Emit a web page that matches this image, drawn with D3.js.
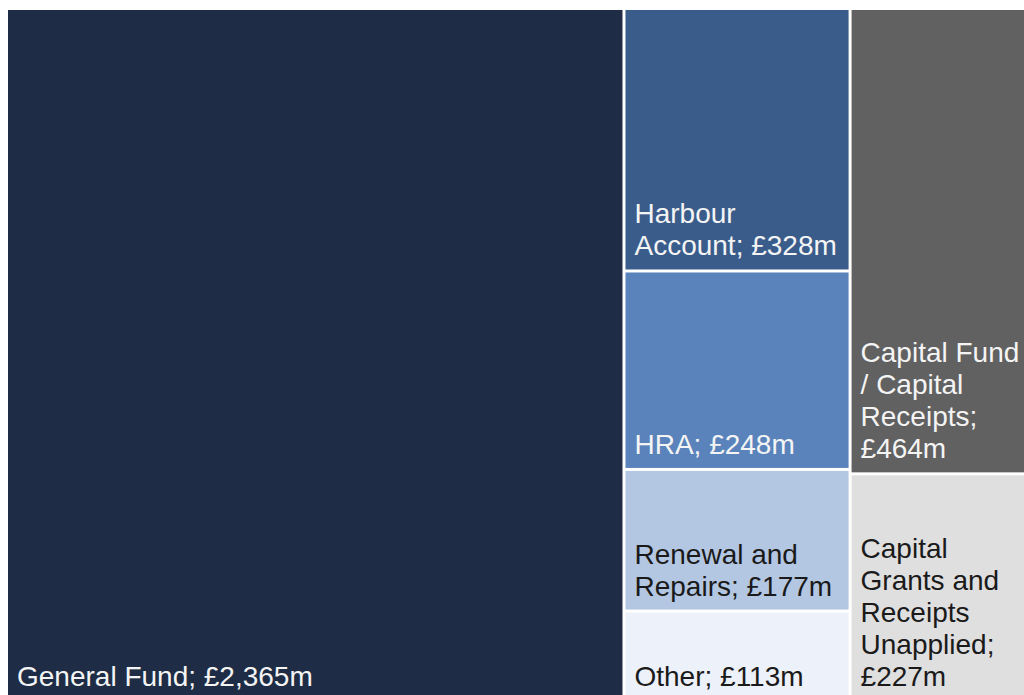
<!DOCTYPE html>
<html>
<head>
<meta charset="utf-8">
<script src="https://cdn.jsdelivr.net/npm/d3@7"></script>
<style>
  html, body { margin: 0; padding: 0; background: #ffffff; }
  svg { display: block; }
  text { font-family: "Liberation Sans", Arial, sans-serif; }
</style>
</head>
<body>
<svg id="chart" width="1024" height="695"></svg>
<script>
// Reserve balances, £m
const categories = [
  "General Fund",
  "Harbour Account",
  "HRA",
  "Renewal and Repairs",
  "Other",
  "Capital Fund / Capital Receipts",
  "Capital Grants and Receipts Unapplied"
];
const values = [2365, 328, 248, 177, 113, 464, 227];
const groups = ["Revenue", "Revenue", "Revenue", "Revenue", "Revenue", "Capital", "Capital"];
const fills = ["#1e2d45", "#3a5c8b", "#5a83bb", "#b4c7e2", "#edf1f9", "#616161", "#dfdfdf"];
const textColors = ["#f4f4f4", "#f4f4f4", "#f4f4f4", "#1a1a1a", "#1a1a1a", "#f4f4f4", "#1a1a1a"];

const box = { left: 8, top: 10, width: 1021, height: 690 };
const fontSize = 28, lineHeight = 32, padX = 9, padBottom = 14;

// Nested structure: reserve type -> individual reserves
const groupNames = Array.from(new Set(groups));
const rootData = {
  name: "Reserves",
  children: groupNames.map(g => ({
    name: g,
    children: categories
      .map((c, i) => ({ name: c, value: values[i], fill: fills[i], textColor: textColors[i], group: groups[i] }))
      .filter(d => d.group === g)
  }))
};

const root = d3.hierarchy(rootData)
  .sum(d => d.value || 0)
  .sort((a, b) => b.value - a.value);

d3.treemap()
  .tile(d3.treemapSquarify.ratio(1))
  .size([box.width, box.height])
  .paddingInner(3)
  .round(false)(root);

const svg = d3.select("#chart");
const g = svg.append("g").attr("transform", `translate(${box.left},${box.top})`);

const fmt = d3.format(",");
const leaves = g.selectAll("g.cell")
  .data(root.leaves())
  .join("g")
  .attr("class", "cell");

leaves.append("rect")
  .attr("x", d => d.x0)
  .attr("y", d => d.y0)
  .attr("width", d => d.x1 - d.x0)
  .attr("height", d => d.y1 - d.y0)
  .attr("fill", d => d.data.fill);

// Labels wrap to the cell width and sit at the bottom-left of each cell
leaves.each(function(d) {
  const cell = d3.select(this);
  const label = `${d.data.name}; £${fmt(d.data.value)}m`;
  const maxW = (d.x1 - d.x0) - 2 * padX;
  const words = label.split(" ");
  const probe = cell.append("text").attr("font-size", fontSize);
  const lines = [];
  let current = "";
  words.forEach(w => {
    const trial = current ? current + " " + w : w;
    probe.text(trial);
    if (current && probe.node().getComputedTextLength() > maxW) {
      lines.push(current);
      current = w;
    } else {
      current = trial;
    }
  });
  if (current) lines.push(current);
  probe.remove();

  const text = cell.append("text")
    .attr("font-size", fontSize)
    .attr("fill", d.data.textColor);
  const lastBaseline = d.y1 - padBottom;
  lines.forEach((ln, i) => {
    text.append("tspan")
      .attr("x", d.x0 + padX)
      .attr("y", lastBaseline - (lines.length - 1 - i) * lineHeight)
      .text(ln);
  });
});
</script>
</body>
</html>
